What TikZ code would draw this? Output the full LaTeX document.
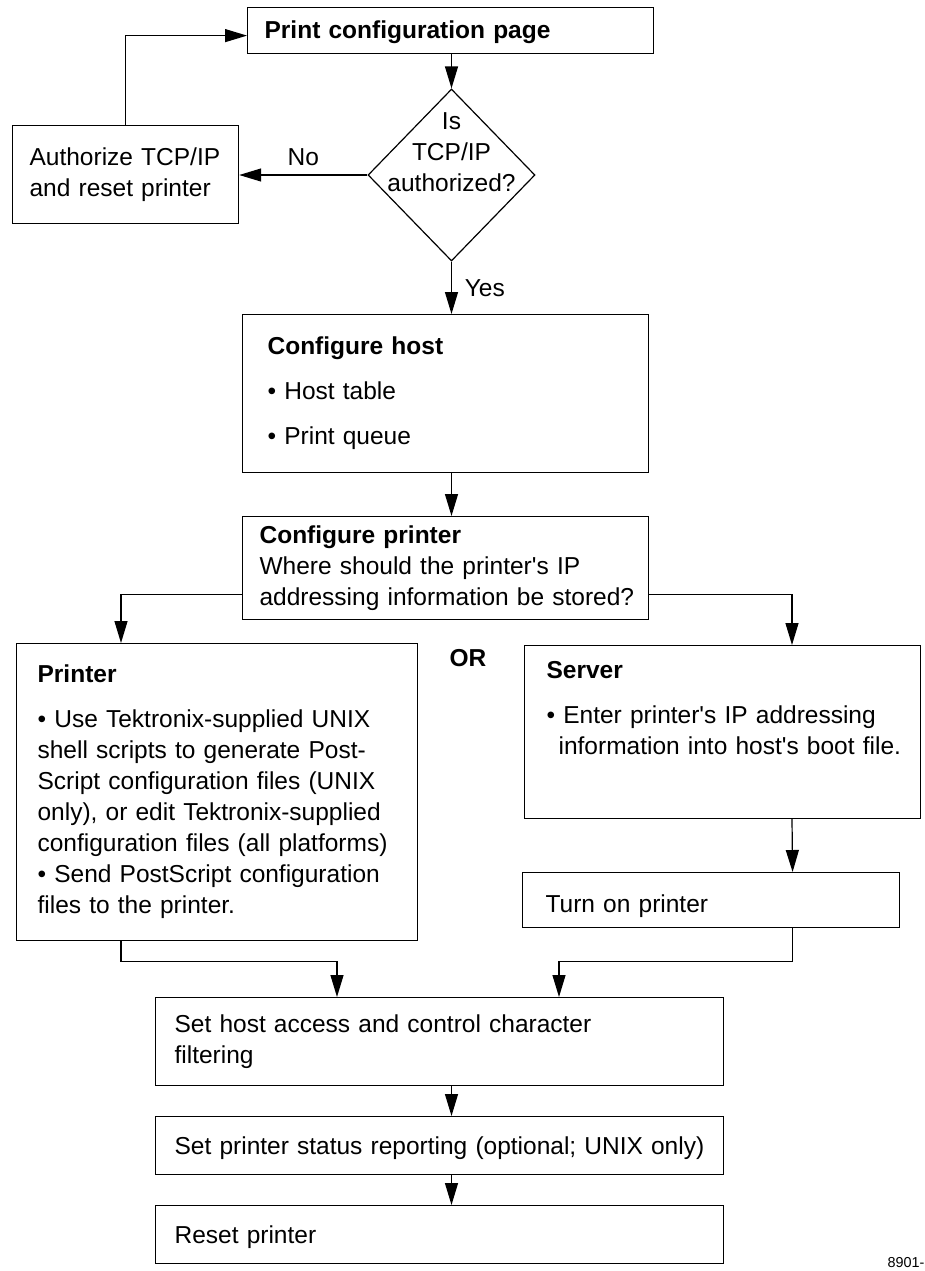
\documentclass[tikz,border=0pt]{standalone}
\usepackage{fontspec}
\setmainfont{Liberation Sans}
\usetikzlibrary{shapes.geometric, arrows.meta, positioning}
\newcommand{\diagfont}{\fontsize{12.25}{15.5}\selectfont}

\tikzset{
  flowbox/.style={rectangle, draw, anchor=north west, align=left, inner ysep=0pt},
  arr/.style={-{Triangle[length=11pt,width=6.5pt]}}
}

\begin{document}
\begin{tikzpicture}[x=0.5pt, y=-0.5pt, line width=0.6pt, font=\diagfont]
    \useasboundingbox (0,0) rectangle (925,1271);
    % Nodes
    \node (print) [flowbox, inner xsep=8.5pt, text width=186pt, minimum height=23pt, text height=10.5pt, font=\diagfont\bfseries] at (247,7) {Print configuration page};
    \node (check) [diamond, draw, minimum width=83.5pt, minimum height=86pt, inner sep=0pt, label={[align=center, yshift=11.5pt]center:{Is\\TCP/IP\\authorized?}}] at (451.5,175) {};
    \node (auth) [flowbox, inner xsep=8.5pt, text width=96pt, minimum height=49pt] at (12,125) {\mbox{Authorize TCP/IP}\\and reset printer};
    \node (host) [flowbox, inner xsep=12.5pt, text width=178pt, minimum height=79pt] at (242,314) {\textbf{Configure host}\\[7pt]\textbullet\ Host table\\[7pt]\textbullet\ Print queue};
    \node (cfgprn) [flowbox, inner xsep=8.5pt, text width=186pt, minimum height=51.5pt] at (242,516) {\textbf{Configure printer}\\Where should the printer\textquotesingle s IP\\\mbox{addressing information be stored?}};
    \node (printerbox) [flowbox, inner xsep=10.5pt, text width=179.5pt, minimum height=148.5pt] at (16,643) {\textbf{Printer}\\[7pt]
        \textbullet\ Use Tektronix-supplied UNIX\\
        shell scripts to generate Post-\\
        Script configuration files (UNIX\\
        only), or edit Tektronix-supplied\\
        \mbox{configuration files (all platforms)}\\
        \textbullet\ Send PostScript configuration\\
        files to the printer.};
    \node (or) [font=\diagfont\bfseries] at (468,658) {OR};
    \node (server) [flowbox, inner xsep=11pt, text width=176pt, minimum height=86.5pt] at (524,645) {\textbf{Server}\\[7pt]\textbullet\ Enter printer\textquotesingle s IP addressing\\\hspace*{6pt}\mbox{information into host\textquotesingle s boot file.}\\[8.5pt]\mbox{}};
    \node (turnon) [flowbox, inner xsep=11.5pt, text width=165.5pt, minimum height=27.5pt, text height=14.9pt, text depth=2.6pt] at (522,872) {Turn on printer};
    \node (hostaccess) [flowbox, inner xsep=9.5pt, text width=265pt, minimum height=44pt] at (155,997) {Set host access and control character\\filtering};
    \node (status) [flowbox, inner xsep=9.5pt, text width=265pt, minimum height=29pt, text height=11.9pt, text depth=2.6pt] at (155,1116) {\mbox{Set printer status reporting (optional; UNIX only)}};
    \node (reset) [flowbox, inner xsep=9.5pt, text width=265pt, minimum height=29pt, text height=11.9pt, text depth=2.6pt] at (155,1205) {Reset printer};
    \node (fignum) [anchor=east, inner sep=0pt, font=\fontsize{7.2}{9}\selectfont] at (925,1263) {8901-};

    % Arrows
    \draw [arr] (print.south -| check.north) -- (check.north);
    \draw [arr] (check.west) -- (check.west -| auth.east) node [midway, above=1pt] {No};
    \draw [arr] (auth.north) |- ([yshift=-2.5pt]print.west);
    \draw [arr] (check.south) -- (host.north -| check.south) node [midway, right=3pt] {Yes};
    \draw [arr] (host.south -| check.south) -- (cfgprn.north -| check.south);
    \draw [arr] ([yshift=-13.25pt]cfgprn.west) -| ([xshift=52.5pt]printerbox.north west);
    \draw [arr] ([yshift=-13.25pt]cfgprn.east) -| ([xshift=134pt]server.north west);
    \draw [arr] ([xshift=134pt]server.south west) -- ([xshift=40.75pt]turnon.north);
    \draw [arr] ([xshift=52.5pt]printerbox.south west) -- ++(0,20) -| ([xshift=91pt]hostaccess.north west);
    \draw [arr] ([xshift=40.75pt]turnon.south) -- ++(0,33) -| ([xshift=202pt]hostaccess.north west);
    \draw [arr] (hostaccess.south -| check.south) -- (status.north -| check.south);
    \draw [arr] (status.south -| check.south) -- (reset.north -| check.south);
\end{tikzpicture}
\end{document}
